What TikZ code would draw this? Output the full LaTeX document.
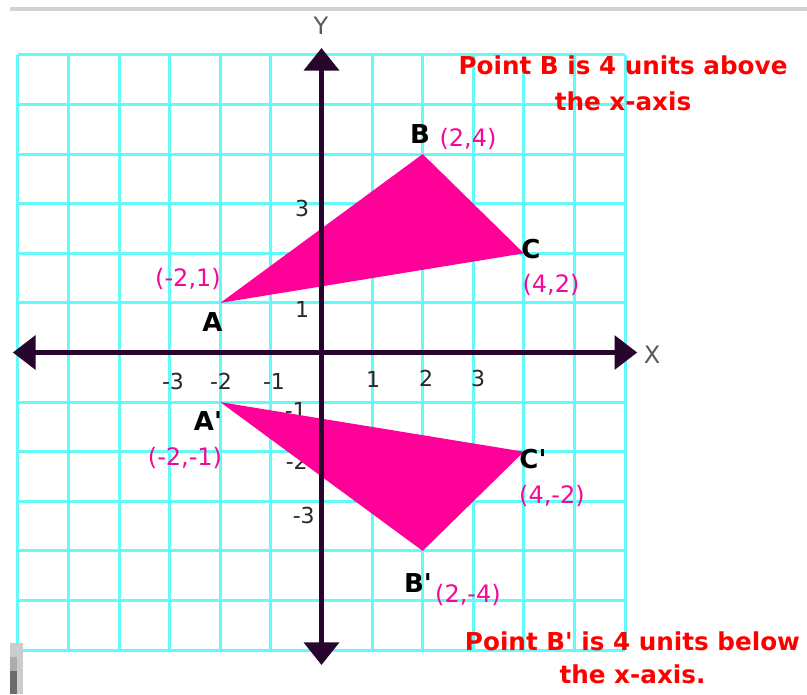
\documentclass[tikz,border=0pt]{standalone}
\usepackage{fontspec}
\setmainfont{DejaVu Sans}
\usetikzlibrary{arrows.meta}
\definecolor{gridcyan}{RGB}{100,250,250}
\definecolor{axiscol}{RGB}{40,5,45}
\definecolor{tripink}{RGB}{255,0,153}
\definecolor{labpink}{RGB}{240,10,150}
\definecolor{notered}{RGB}{255,0,0}
\begin{document}
\begin{tikzpicture}[x=0.75pt,y=-0.75pt,
  gridline/.style={draw=gridcyan,line width=2.3pt},
  axisline/.style={draw=axiscol,line width=3.8pt},
  tri/.style={fill=tripink},
  tick/.style={inner sep=0pt,text=black!85,font=\fontsize{16.5pt}{18pt}\selectfont},
  axlab/.style={inner sep=0pt,text=black!65,font=\fontsize{18pt}{20pt}\selectfont},
  ptname/.style={inner sep=0pt,text=black,font=\fontsize{19.5pt}{22pt}\selectfont\bfseries},
  ptcoord/.style={inner sep=0pt,text=labpink,font=\fontsize{18pt}{20pt}\selectfont},
  note/.style={inner sep=0pt,anchor=base,text=notered,font=\fontsize{18.5pt}{22pt}\selectfont\bfseries}]
\useasboundingbox (0,0) rectangle (807,694);
\fill[white] (0,0) rectangle (807,694);
% top gray rule of the screenshot
\coordinate (rulel) at (10,8.5);
\coordinate (ruler) at (807,8.5);
\draw[gray!35,line width=3pt] (rulel) -- (ruler);

\begin{scope}[shift={(321.5,352.5)},x=37.95pt,y=37.2pt]
  \coordinate (gll) at (-6,-6);
  \coordinate (gur) at (6,6);
  \draw[gridline,step={(1,1)}] (gll) grid (gur);
\end{scope}

% tick labels (pixel coordinates), drawn before the triangles
\node[tick,anchor=east] (t3)  at (309.5,208) {3};
\node[tick,anchor=east] (t2)  at (309.5,258) {2};
\node[tick,anchor=east] (t1)  at (309.5,309) {1};
\node[tick,anchor=east] (tm1) at (307,410) {-1};
\node[tick,anchor=east] (tm2) at (308,461) {-2};
\node[tick,anchor=east] (tm3) at (315,515) {-3};
\node[tick] (xm3) at (173,381) {-3};
\node[tick] (xm2) at (221,381) {-2};
\node[tick] (xm1) at (274,381) {-1};
\node[tick] (x1)  at (373,379) {1};
\node[tick] (x2)  at (426,378) {2};
\node[tick] (x3)  at (478,378) {3};

\begin{scope}[shift={(321.5,352.5)},x=37.95pt,y=37.2pt]
  \coordinate (A)  at (-2,1);
  \coordinate (B)  at (2,4);
  \coordinate (C)  at (4,2);
  \coordinate (A1) at (-2,-1);
  \coordinate (B1) at (2,-4);
  \coordinate (C1) at (4,-2);
  \fill[tri] (A) -- (B) -- (C) -- cycle;
  \fill[tri] (A1) -- (B1) -- (C1) -- cycle;
  \coordinate (xl) at (-6.1,0);
  \coordinate (xr) at (6.24,0);
  \coordinate (yt) at (0,6.14);
  \coordinate (yb) at (0,-6.3);
  \draw[axisline,{Triangle[length=17pt,width=25pt]}-{Triangle[length=17pt,width=25pt]}] (xl) -- (xr);
  \draw[axisline,{Triangle[length=17pt,width=26pt]}-{Triangle[length=17pt,width=26pt]}] (yb) -- (yt);
\end{scope}

% screenshot artefact, bottom left
\fill[gray!40] (10,643) rectangle (23,694);
\fill[gray!65] (10,657) rectangle (17,671);
\fill[gray!85!black] (10,671) rectangle (17,694);

% axis names
\node[axlab] (ylab) at (321,26) {Y};
\node[axlab] (xlab) at (652,355) {X};

% point names
\node[ptname] (nB)  at (420,134) {B};
\node[ptname] (nC)  at (531,249) {C};
\node[ptname] (nA)  at (212.5,322) {A};
\node[ptname] (nA1) at (208,421) {A\textquotesingle};
\node[ptname] (nC1) at (533,459) {C\textquotesingle};
\node[ptname] (nB1) at (418,583) {B\textquotesingle};

% coordinates
\node[ptcoord] (cB)  at (468,139) {(2,4)};
\node[ptcoord] (cC)  at (551,285) {(4,2)};
\node[ptcoord] (cA)  at (188,279) {(-2,1)};
\node[ptcoord] (cA1) at (185,458) {(-2,-1)};
\node[ptcoord] (cC1) at (552,496) {(4,-2)};
\node[ptcoord] (cB1) at (468,595) {(2,-4)};

% notes
\node[note] (n1a) at (623,74) {Point B is 4 units above};
\node[note] (n1b) at (623,110) {the x-axis};
\node[note] (n2a) at (632.5,650) {Point B\textquotesingle{} is 4 units below};
\node[note] (n2b) at (632.5,683) {the x-axis.};
\end{tikzpicture}
\end{document}
